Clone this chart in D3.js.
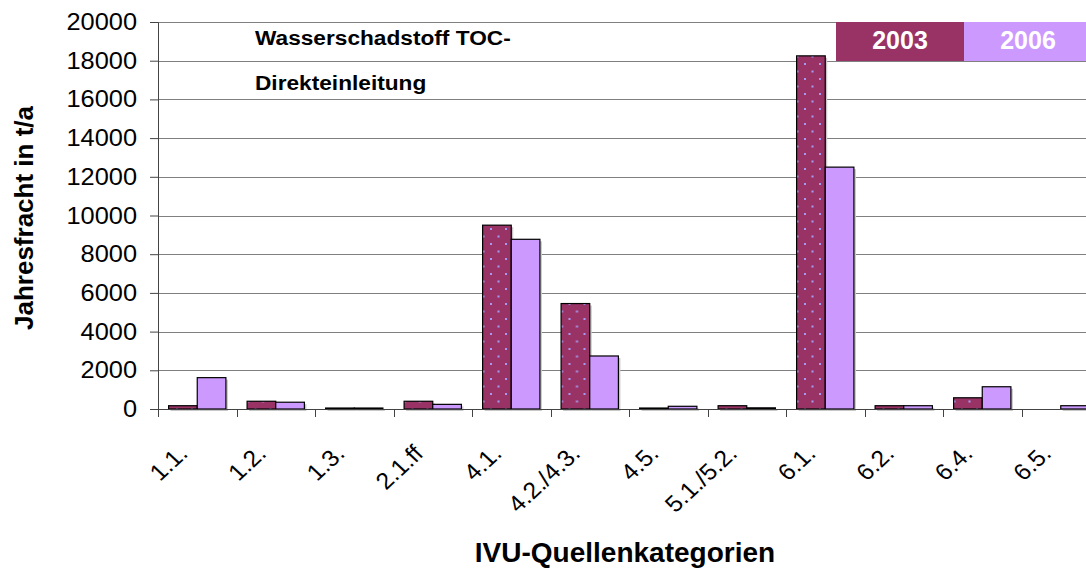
<!DOCTYPE html>
<html>
<head>
<meta charset="utf-8">
<script src="https://cdn.jsdelivr.net/npm/d3@7"></script>
<style>
  body { margin: 0; background: #fff; }
  svg { display: block; font-family: Arial, 'Liberation Sans', sans-serif; }
</style>
</head>
<body>
<svg width="1086" height="569"></svg>
<script>
const categories = ['1.1.', '1.2.', '1.3.', '2.1.ff', '4.1.', '4.2./4.3.', '4.5.', '5.1./5.2.', '6.1.', '6.2.', '6.4.', '6.5.'];
const values2003 = [170, 400, 50, 400, 9500, 5450, 50, 170, 18250, 170, 580, 0];
const values2006 = [1620, 350, 50, 240, 8770, 2740, 140, 60, 12500, 170, 1150, 170];
const seriesNames = ['2003', '2006'];
const seriesColors = ['#993366', '#cc99ff'];
const yTicks = [0, 2000, 4000, 6000, 8000, 10000, 12000, 14000, 16000, 18000, 20000];

const svg = d3.select('svg');
const margin = { left: 158, top: 22, right: 1100, bottom: 409 };
const stretch = 1.08; // the source text runs a little wide

const x = d3.scaleBand()
  .domain(categories)
  .range([margin.left, margin.right])
  .paddingInner(0)
  .paddingOuter(0);

const xInner = d3.scaleBand()
  .domain(seriesNames)
  .range([0, x.bandwidth()])
  .paddingInner(0)
  .paddingOuter(0.37);

const y = d3.scaleLinear()
  .domain([0, 20000])
  .range([margin.bottom, margin.top]);

// dotted pattern for 2003 bars
const defs = svg.append('defs');
const pat = defs.append('pattern')
  .attr('id', 'dots')
  .attr('patternUnits', 'userSpaceOnUse')
  .attr('width', 15)
  .attr('height', 15);
pat.append('rect').attr('width', 15).attr('height', 15).attr('fill', seriesColors[0]);
pat.append('rect').attr('x', 3).attr('y', 3).attr('width', 2).attr('height', 2).attr('fill', '#a49cf2');
pat.append('rect').attr('x', 10.5).attr('y', 10.5).attr('width', 2).attr('height', 2).attr('fill', '#a49cf2');

// gridlines
svg.append('g')
  .attr('class', 'grid')
  .selectAll('line')
  .data(yTicks.filter(d => d > 0))
  .enter()
  .append('line')
  .attr('x1', margin.left)
  .attr('x2', margin.right)
  .attr('y1', d => Math.round(y(d)) + 0.5)
  .attr('y2', d => Math.round(y(d)) + 0.5)
  .attr('stroke', '#808080')
  .attr('stroke-width', 1);

// bars
const rows = categories.map((c, i) => ({ cat: c, vals: [values2003[i], values2006[i]] }));
const groups = svg.append('g')
  .selectAll('g')
  .data(rows)
  .enter()
  .append('g')
  .attr('transform', d => `translate(${x(d.cat)},0)`);

const barData = d => d.vals.map((v, j) => ({ name: seriesNames[j], v, j })).filter(b => b.v > 0);

// shadows
groups.selectAll('rect.shadow')
  .data(barData)
  .enter()
  .append('rect')
  .attr('class', 'shadow')
  .attr('x', b => xInner(b.name) + 2)
  .attr('y', b => y(b.v) + 2)
  .attr('width', xInner.bandwidth())
  .attr('height', b => y(0) - y(b.v))
  .attr('fill', '#c8c8c8');

groups.selectAll('rect.bar')
  .data(barData)
  .enter()
  .append('rect')
  .attr('class', 'bar')
  .attr('x', b => xInner(b.name))
  .attr('y', b => y(b.v))
  .attr('width', xInner.bandwidth())
  .attr('height', b => y(0) - y(b.v))
  .attr('fill', b => (b.j === 0 ? 'url(#dots)' : seriesColors[1]))
  .attr('stroke', '#000')
  .attr('stroke-width', 1.2);

// y axis
const yAxis = svg.append('g')
  .attr('transform', `translate(${margin.left},0)`)
  .call(d3.axisLeft(y).tickValues(yTicks).tickSize(8).tickPadding(0).tickFormat(d3.format('d')));
yAxis.select('.domain').attr('stroke', '#444');
yAxis.selectAll('.tick line').attr('stroke', '#444');
yAxis.selectAll('text')
  .attr('x', null)
  .attr('transform', `translate(-21,0) scale(${stretch},1)`)
  .attr('font-size', 23.5)
  .attr('fill', '#000')
  .attr('font-family', 'Arial, Liberation Sans, sans-serif');

// x axis line + ticks at category boundaries
svg.append('line')
  .attr('x1', margin.left)
  .attr('x2', margin.right)
  .attr('y1', y(0) + 0.5)
  .attr('y2', y(0) + 0.5)
  .attr('stroke', '#444');

svg.append('g')
  .selectAll('line')
  .data(categories)
  .enter()
  .append('line')
  .attr('x1', d => Math.round(x(d)) + 0.5)
  .attr('x2', d => Math.round(x(d)) + 0.5)
  .attr('y1', y(0))
  .attr('y2', y(0) + 8)
  .attr('stroke', '#444');

// x labels
svg.append('g')
  .selectAll('text')
  .data(categories)
  .enter()
  .append('text')
  .attr('transform', d => `translate(${x(d) + x.bandwidth() / 2 - 8},455) scale(${stretch},1) rotate(-45)`)
  .attr('text-anchor', 'end')
  .attr('font-size', 23)
  .text(d => d);

// axis titles
svg.append('text')
  .attr('transform', 'translate(33,218) rotate(-90)')
  .attr('text-anchor', 'middle')
  .attr('font-size', 26)
  .attr('font-weight', 'bold')
  .text('Jahresfracht in t/a');

svg.append('text')
  .attr('x', (margin.left + margin.right) / 2 - 4)
  .attr('y', 562)
  .attr('text-anchor', 'middle')
  .attr('font-size', 28)
  .attr('font-weight', 'bold')
  .text('IVU-Quellenkategorien');

// chart title inside plot
const titleLines = ['Wasserschadstoff TOC-', 'Direkteinleitung'];
svg.append('g')
  .selectAll('text')
  .data(titleLines)
  .enter()
  .append('text')
  .attr('transform', (d, i) => `translate(255,${45 + i * 45}) scale(${stretch},1)`)
  .attr('font-size', 21)
  .attr('font-weight', 'bold')
  .text(d => d);

// legend
const legendX = 836;
const legendW = 128;
const legend = svg.append('g')
  .selectAll('g')
  .data(seriesNames)
  .enter()
  .append('g')
  .attr('transform', (d, i) => `translate(${legendX + i * legendW},22)`);
legend.append('rect')
  .attr('width', legendW)
  .attr('height', 39)
  .attr('fill', (d, i) => seriesColors[i]);
legend.append('text')
  .attr('x', legendW / 2)
  .attr('y', 27)
  .attr('text-anchor', 'middle')
  .attr('font-size', 25)
  .attr('font-weight', 'bold')
  .attr('fill', '#fff')
  .text(d => d);
</script>
</body>
</html>
